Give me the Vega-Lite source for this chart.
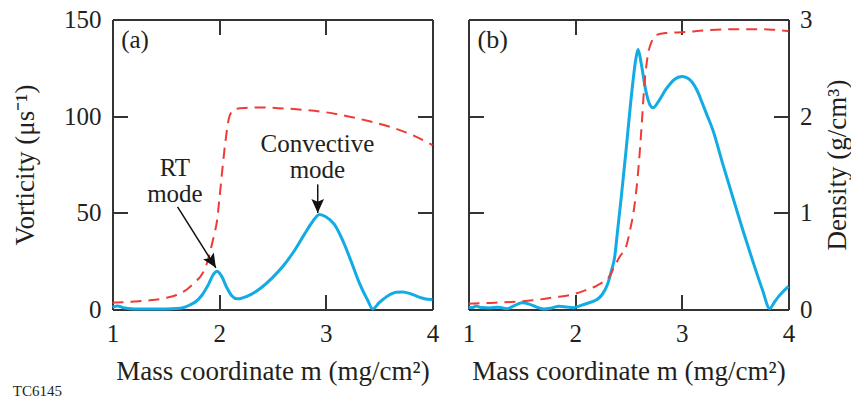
{
  "$schema": "https://vega.github.io/schema/vega-lite/v6.json",
  "padding": {"left": 11.5, "top": 7.5, "right": 0, "bottom": 0},
  "config": {
    "view": {"stroke": null},
    "font": "Liberation Serif",
    "concat": {"spacing": 22},
    "axis": {
      "domainColor": "#333333", "domainWidth": 2,
      "tickColor": "#333333", "tickWidth": 2, "tickSize": -15,
      "labelFont": "Liberation Serif", "labelFontSize": 25, "labelColor": "#231f20",
      "labelFlush": false, "labelOverlap": false,
      "titleFont": "Liberation Serif", "titleFontSize": 27, "titleFontWeight": "normal", "titleColor": "#231f20",
      "grid": false
    }
  },
  "datasets": {
    "vortA": [
      {"m": 1.00, "v": 1.2}, {"m": 1.05, "v": 1.8}, {"m": 1.10, "v": 0.9}, {"m": 1.20, "v": 0.3},
      {"m": 1.40, "v": 0.2}, {"m": 1.60, "v": 0.5}, {"m": 1.66, "v": 0.9}, {"m": 1.72, "v": 2.2},
      {"m": 1.78, "v": 4.0}, {"m": 1.84, "v": 7.5}, {"m": 1.90, "v": 13.0}, {"m": 1.95, "v": 18.5},
      {"m": 1.98, "v": 19.8}, {"m": 2.02, "v": 17.5}, {"m": 2.07, "v": 11.5}, {"m": 2.12, "v": 7.0},
      {"m": 2.17, "v": 5.5}, {"m": 2.22, "v": 6.0}, {"m": 2.30, "v": 7.8}, {"m": 2.40, "v": 11.5},
      {"m": 2.50, "v": 16.5}, {"m": 2.60, "v": 22.5}, {"m": 2.70, "v": 30.0}, {"m": 2.80, "v": 39.0},
      {"m": 2.87, "v": 45.0}, {"m": 2.94, "v": 49.2}, {"m": 3.00, "v": 48.0}, {"m": 3.08, "v": 44.0},
      {"m": 3.16, "v": 35.5}, {"m": 3.24, "v": 24.5}, {"m": 3.32, "v": 13.0}, {"m": 3.39, "v": 5.0},
      {"m": 3.44, "v": 0.3}, {"m": 3.50, "v": 3.5}, {"m": 3.58, "v": 7.0}, {"m": 3.66, "v": 8.9},
      {"m": 3.72, "v": 9.1}, {"m": 3.80, "v": 8.0}, {"m": 3.88, "v": 6.3}, {"m": 3.95, "v": 5.3},
      {"m": 4.00, "v": 5.2}
    ],
    "densA": [
      {"m": 1.00, "d": 0.07}, {"m": 1.10, "d": 0.075}, {"m": 1.20, "d": 0.082}, {"m": 1.30, "d": 0.09},
      {"m": 1.40, "d": 0.10}, {"m": 1.50, "d": 0.12}, {"m": 1.60, "d": 0.15}, {"m": 1.70, "d": 0.21},
      {"m": 1.77, "d": 0.28}, {"m": 1.83, "d": 0.35}, {"m": 1.88, "d": 0.46}, {"m": 1.92, "d": 0.62},
      {"m": 1.95, "d": 0.76}, {"m": 1.98, "d": 0.92}, {"m": 2.00, "d": 1.12}, {"m": 2.03, "d": 1.45},
      {"m": 2.06, "d": 1.75}, {"m": 2.09, "d": 1.97}, {"m": 2.12, "d": 2.05}, {"m": 2.16, "d": 2.075},
      {"m": 2.25, "d": 2.085}, {"m": 2.40, "d": 2.09}, {"m": 2.60, "d": 2.08}, {"m": 2.80, "d": 2.065},
      {"m": 3.00, "d": 2.04}, {"m": 3.20, "d": 2.0}, {"m": 3.40, "d": 1.95}, {"m": 3.60, "d": 1.89},
      {"m": 3.80, "d": 1.81}, {"m": 4.00, "d": 1.70}
    ],
    "vortB": [
      {"m": 1.00, "v": 1.2}, {"m": 1.04, "v": 1.0}, {"m": 1.07, "v": 1.8}, {"m": 1.12, "v": 1.0},
      {"m": 1.20, "v": 0.8}, {"m": 1.28, "v": 1.2}, {"m": 1.36, "v": 0.4}, {"m": 1.43, "v": 2.0},
      {"m": 1.50, "v": 3.5}, {"m": 1.57, "v": 2.8}, {"m": 1.64, "v": 1.2}, {"m": 1.71, "v": 0.2},
      {"m": 1.78, "v": 0.8}, {"m": 1.85, "v": 1.7}, {"m": 1.92, "v": 1.3}, {"m": 1.98, "v": 0.9},
      {"m": 2.05, "v": 2.0}, {"m": 2.13, "v": 3.5}, {"m": 2.20, "v": 5.0}, {"m": 2.25, "v": 7.5},
      {"m": 2.30, "v": 12.5}, {"m": 2.34, "v": 20.0}, {"m": 2.37, "v": 27.0}, {"m": 2.40, "v": 42.0},
      {"m": 2.43, "v": 57.0}, {"m": 2.48, "v": 84.0}, {"m": 2.53, "v": 112.0}, {"m": 2.57, "v": 130.0},
      {"m": 2.59, "v": 134.5}, {"m": 2.62, "v": 127.0}, {"m": 2.66, "v": 113.8}, {"m": 2.70, "v": 106.0},
      {"m": 2.73, "v": 104.3}, {"m": 2.78, "v": 107.5}, {"m": 2.85, "v": 113.8}, {"m": 2.93, "v": 119.0},
      {"m": 3.00, "v": 120.5}, {"m": 3.06, "v": 119.5}, {"m": 3.10, "v": 117.3}, {"m": 3.15, "v": 112.5},
      {"m": 3.19, "v": 107.0}, {"m": 3.24, "v": 100.0}, {"m": 3.29, "v": 93.0}, {"m": 3.38, "v": 76.0},
      {"m": 3.475, "v": 58.6}, {"m": 3.57, "v": 41.4}, {"m": 3.66, "v": 25.9}, {"m": 3.755, "v": 10.3},
      {"m": 3.824, "v": 0.5}, {"m": 3.87, "v": 4.0}, {"m": 3.91, "v": 6.9}, {"m": 4.00, "v": 12.0}
    ],
    "densB": [
      {"m": 1.00, "d": 0.059}, {"m": 1.20, "d": 0.068}, {"m": 1.40, "d": 0.078}, {"m": 1.60, "d": 0.095},
      {"m": 1.80, "d": 0.125}, {"m": 1.99, "d": 0.16}, {"m": 2.10, "d": 0.20}, {"m": 2.20, "d": 0.245},
      {"m": 2.28, "d": 0.30}, {"m": 2.32, "d": 0.34}, {"m": 2.37, "d": 0.45}, {"m": 2.42, "d": 0.55},
      {"m": 2.48, "d": 0.66}, {"m": 2.52, "d": 0.85}, {"m": 2.54, "d": 0.96}, {"m": 2.57, "d": 1.20},
      {"m": 2.60, "d": 1.55}, {"m": 2.62, "d": 1.85}, {"m": 2.65, "d": 2.34}, {"m": 2.68, "d": 2.62},
      {"m": 2.72, "d": 2.78}, {"m": 2.76, "d": 2.84}, {"m": 2.85, "d": 2.86}, {"m": 3.04, "d": 2.87},
      {"m": 3.20, "d": 2.885}, {"m": 3.48, "d": 2.90}, {"m": 3.70, "d": 2.90}, {"m": 3.85, "d": 2.895},
      {"m": 4.00, "d": 2.88}
    ],
    "textA": [
      {"m": 1.211, "v": 135.2, "t": "(a)"},
      {"m": 1.585, "v": 69.3, "t": "RT\nmode"},
      {"m": 2.921, "v": 81.3, "t": "Convective\nmode"}
    ],
    "textB": [
      {"m": 1.227, "v": 135.2, "t": "(b)"}
    ],
    "note": [
      {"m": 0.066, "v": -44.5, "t": "TC6145"}
    ],
    "arrows": [
      {"name": "RT", "m": 1.61, "v": 53.1, "m2": 1.969, "v2": 21.6},
      {"name": "Conv", "m": 2.924, "v": 64.7, "m2": 2.924, "v2": 49.9}
    ]
  },
  "hconcat": [
    {
      "width": 320, "height": 290,
      "layer": [
        {
          "data": {"name": "vortA"},
          "mark": {"type": "line", "color": "#12ABE4", "strokeWidth": 3, "interpolate": "monotone"},
          "encoding": {
            "x": {"field": "m", "type": "quantitative", "scale": {"domain": [1, 4], "nice": false, "zero": false},
                  "axis": {"orient": "bottom", "values": [1, 2, 3, 4], "labelPadding": 27, "title": "Mass coordinate m (mg/cm²)", "titlePadding": 12}},
            "y": {"field": "v", "type": "quantitative", "scale": {"domain": [0, 150], "nice": false},
                  "axis": {"orient": "left", "values": [0, 50, 100, 150], "labelPadding": 26.5, "title": "Vorticity (μs⁻¹)", "titlePadding": 24}}
          }
        },
        {
          "data": {"name": "densA"},
          "mark": {"type": "line", "color": "#EE3B36", "strokeWidth": 2, "strokeDash": [11, 7], "interpolate": "monotone"},
          "encoding": {
            "x": {"field": "m", "type": "quantitative", "scale": {"domain": [1, 4], "nice": false, "zero": false},
                  "axis": {"orient": "top", "values": [1, 2, 3, 4], "labels": false, "title": null}},
            "y": {"field": "d", "type": "quantitative", "scale": {"domain": [0, 3], "nice": false},
                  "axis": {"orient": "right", "values": [0, 1, 2, 3], "labels": false, "title": null}}
          }
        },
        {
          "data": {"name": "arrows"},
          "mark": {"type": "rule", "color": "#111111", "strokeWidth": 1.5},
          "encoding": {
            "x": {"field": "m", "type": "quantitative", "scale": {"domain": [1, 4], "nice": false, "zero": false}, "axis": null},
            "y": {"field": "v", "type": "quantitative", "scale": {"domain": [0, 150], "nice": false}, "axis": null},
            "x2": {"field": "m2"},
            "y2": {"field": "v2"}
          }
        },
        {
          "data": {"name": "arrows"},
          "transform": [{"filter": "datum.name == 'RT'"}],
          "mark": {"type": "point", "filled": true, "color": "#111111", "opacity": 1, "size": 196, "angle": 328,
                   "shape": "M0,0L-0.9,-2L0,-1.6L0.9,-2Z"},
          "encoding": {
            "x": {"field": "m2", "type": "quantitative", "scale": {"domain": [1, 4], "nice": false, "zero": false}, "axis": null},
            "y": {"field": "v2", "type": "quantitative", "scale": {"domain": [0, 150], "nice": false}, "axis": null}
          }
        },
        {
          "data": {"name": "arrows"},
          "transform": [{"filter": "datum.name == 'Conv'"}],
          "mark": {"type": "point", "filled": true, "color": "#111111", "opacity": 1, "size": 196, "angle": 0,
                   "shape": "M0,0L-0.9,-2L0,-1.6L0.9,-2Z"},
          "encoding": {
            "x": {"field": "m2", "type": "quantitative", "scale": {"domain": [1, 4], "nice": false, "zero": false}, "axis": null},
            "y": {"field": "v2", "type": "quantitative", "scale": {"domain": [0, 150], "nice": false}, "axis": null}
          }
        },
        {
          "data": {"name": "textA"},
          "mark": {"type": "text", "font": "Liberation Serif", "fontSize": 25, "color": "#231f20", "align": "center", "baseline": "alphabetic", "lineBreak": "\n", "lineHeight": 26},
          "encoding": {
            "x": {"field": "m", "type": "quantitative", "scale": {"domain": [1, 4], "nice": false, "zero": false}, "axis": null},
            "y": {"field": "v", "type": "quantitative", "scale": {"domain": [0, 150], "nice": false}, "axis": null},
            "text": {"field": "t"}
          }
        },
        {
          "data": {"name": "note"},
          "mark": {"type": "text", "font": "Liberation Serif", "fontSize": 15, "color": "#231f20", "align": "left", "baseline": "alphabetic"},
          "encoding": {
            "x": {"field": "m", "type": "quantitative", "scale": {"domain": [1, 4], "nice": false, "zero": false}, "axis": null},
            "y": {"field": "v", "type": "quantitative", "scale": {"domain": [0, 150], "nice": false}, "axis": null},
            "text": {"field": "t"}
          }
        }
      ],
      "resolve": {"scale": {"y": "independent"}, "axis": {"x": "independent", "y": "independent"}}
    },
    {
      "width": 320, "height": 290,
      "layer": [
        {
          "data": {"name": "vortB"},
          "mark": {"type": "line", "color": "#12ABE4", "strokeWidth": 3, "interpolate": "monotone"},
          "encoding": {
            "x": {"field": "m", "type": "quantitative", "scale": {"domain": [1, 4], "nice": false, "zero": false},
                  "axis": {"orient": "bottom", "values": [1, 2, 3, 4], "labelPadding": 27, "title": "Mass coordinate m (mg/cm²)", "titlePadding": 12}},
            "y": {"field": "v", "type": "quantitative", "scale": {"domain": [0, 150], "nice": false},
                  "axis": {"orient": "left", "values": [0, 50, 100, 150], "labels": false, "title": null}}
          }
        },
        {
          "data": {"name": "densB"},
          "mark": {"type": "line", "color": "#EE3B36", "strokeWidth": 2, "strokeDash": [11, 7], "interpolate": "monotone"},
          "encoding": {
            "x": {"field": "m", "type": "quantitative", "scale": {"domain": [1, 4], "nice": false, "zero": false},
                  "axis": {"orient": "top", "values": [1, 2, 3, 4], "labels": false, "title": null}},
            "y": {"field": "d", "type": "quantitative", "scale": {"domain": [0, 3], "nice": false},
                  "axis": {"orient": "right", "values": [0, 1, 2, 3], "labelPadding": 26, "title": "Density (g/cm³)", "titleAngle": 270, "titleBaseline": "top", "titlePadding": 12}}
          }
        },
        {
          "data": {"name": "textB"},
          "mark": {"type": "text", "font": "Liberation Serif", "fontSize": 26, "color": "#231f20", "align": "center", "baseline": "alphabetic"},
          "encoding": {
            "x": {"field": "m", "type": "quantitative", "scale": {"domain": [1, 4], "nice": false, "zero": false}, "axis": null},
            "y": {"field": "v", "type": "quantitative", "scale": {"domain": [0, 150], "nice": false}, "axis": null},
            "text": {"field": "t"}
          }
        }
      ],
      "resolve": {"scale": {"y": "independent"}, "axis": {"x": "independent", "y": "independent"}}
    }
  ]
}
